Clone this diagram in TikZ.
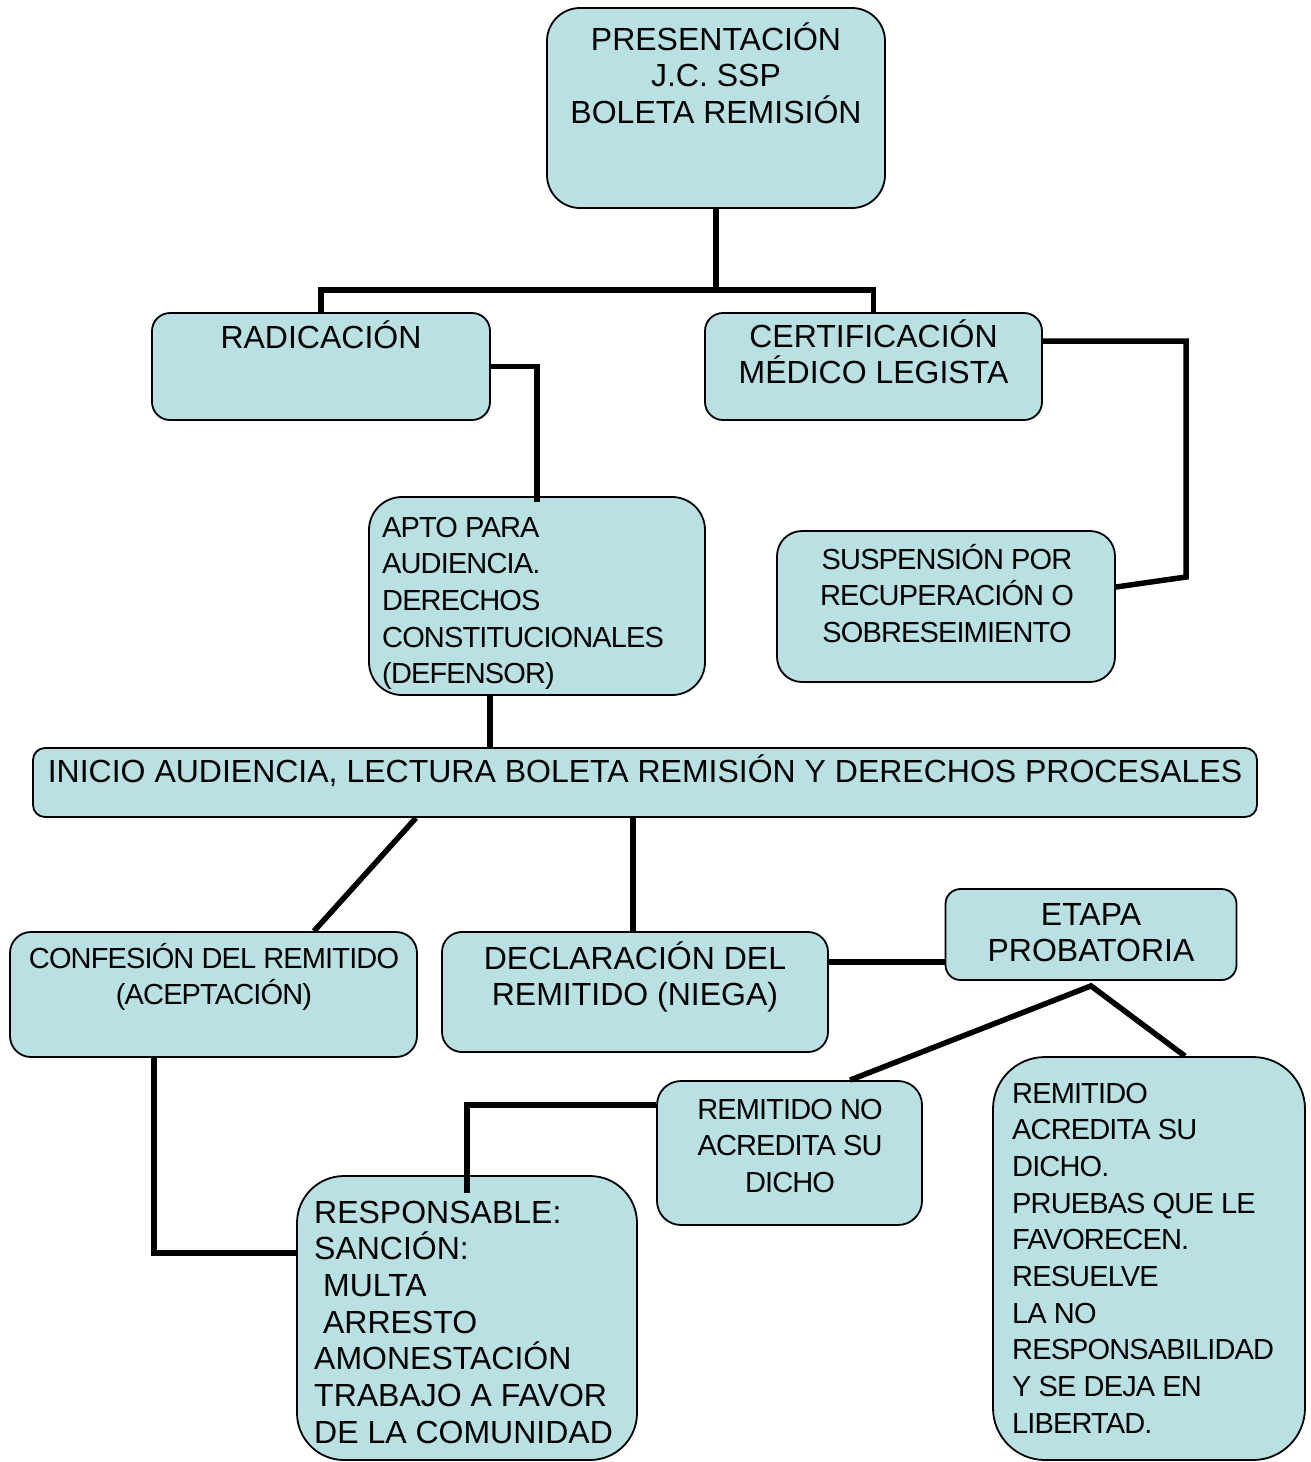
\documentclass[tikz,border=0pt]{standalone}
\usepackage{fontspec}
\setmainfont{Liberation Sans}
\newfontfamily\condfont[LetterSpace=-3]{Liberation Sans}
\definecolor{boxfill}{RGB}{185,224,227}
\tikzset{
  box/.style={draw=black, line width=1.8pt, fill=boxfill, inner sep=0pt, rectangle},
  conn/.style={draw=black, line width=5.5pt},
  txt/.style={inner sep=0pt, font=\fontsize{32}{36.7}\selectfont},
  ctxt/.style={inner sep=0pt, font=\condfont\fontsize{29}{36.7}\selectfont},
}
\begin{document}
\begin{tikzpicture}[x=1pt,y=-1pt]
\useasboundingbox (0,0) rectangle (1311,1462);
% boxes
\node[box, minimum width=338pt, minimum height=200pt, rounded corners=33pt] (pres) at (716,108) {};
\node[box, minimum width=338pt, minimum height=107pt, rounded corners=18pt] (rad) at (321,366.5) {};
\node[box, minimum width=337pt, minimum height=107pt, rounded corners=18pt] (cert) at (873.5,366.5) {};
\node[box, minimum width=336pt, minimum height=198pt, rounded corners=33pt] (apto) at (537,596) {};
\node[box, minimum width=338pt, minimum height=151pt, rounded corners=25pt] (susp) at (946,606.5) {};
\node[box, minimum width=1224pt, minimum height=69pt, rounded corners=12pt] (inicio) at (645,782.5) {};
\node[box, minimum width=407pt, minimum height=125pt, rounded corners=21pt] (conf) at (213.5,994.5) {};
\node[box, minimum width=386pt, minimum height=120pt, rounded corners=20pt] (decl) at (635,992) {};
\node[box, minimum width=291pt, minimum height=91pt, rounded corners=15pt] (etapa) at (1091,934.5) {};
\node[box, minimum width=265pt, minimum height=144pt, rounded corners=24pt] (remno) at (789.5,1153) {};
\node[box, minimum width=312pt, minimum height=403pt, rounded corners=52pt] (remac) at (1149,1258.5) {};
\node[box, minimum width=340pt, minimum height=284pt, rounded corners=47pt] (resp) at (467,1318) {};
% texts
\node[txt, anchor=base] (presT) at (716,50) {\parbox[t]{400pt}{\centering PRESENTACIÓN\\J.C. SSP\\BOLETA REMISIÓN}};
\node[txt, anchor=base] (radT) at (321,348) {RADICACIÓN};
\node[txt, anchor=base] (certT) at (873.5,347) {\parbox[t]{400pt}{\centering CERTIFICACIÓN\\MÉDICO LEGISTA}};
\node[ctxt, anchor=base west] (aptoT) at (382,537) {\parbox[t]{320pt}{\raggedright APTO PARA\\AUDIENCIA.\\DERECHOS\\CONSTITUCIONALES\\(DEFENSOR)}};
\node[ctxt, anchor=base] (suspT) at (947,569) {\parbox[t]{330pt}{\centering SUSPENSIÓN POR\\RECUPERACIÓN O\\SOBRESEIMIENTO}};
\node[txt, anchor=base] (inicioT) at (645,782) {INICIO AUDIENCIA, LECTURA BOLETA REMISIÓN Y DERECHOS PROCESALES};
\node[ctxt, anchor=base] (confT) at (214,968) {\parbox[t]{400pt}{\centering CONFESIÓN DEL REMITIDO\\(ACEPTACIÓN)}};
\node[txt, anchor=base] (declT) at (635,969) {\parbox[t]{380pt}{\centering DECLARACIÓN DEL\\REMITIDO (NIEGA)}};
\node[txt, anchor=base] (etapaT) at (1091,925) {\parbox[t]{290pt}{\centering ETAPA\\PROBATORIA}};
\node[ctxt, anchor=base] (remnoT) at (790,1119) {\parbox[t]{260pt}{\centering REMITIDO NO\\ACREDITA SU\\DICHO}};
\node[ctxt, anchor=base west] (remacT) at (1012,1103) {\parbox[t]{300pt}{\raggedright REMITIDO\\ACREDITA SU\\DICHO.\\PRUEBAS QUE LE\\FAVORECEN.\\RESUELVE\\LA NO\\RESPONSABILIDAD\\Y SE DEJA EN\\LIBERTAD.}};
\node[txt, anchor=base west] (respT) at (314,1223) {\parbox[t]{330pt}{\raggedright RESPONSABLE:\\SANCIÓN:\\\hspace*{0.278em}MULTA\\\hspace*{0.278em}ARRESTO\\AMONESTACIÓN\\TRABAJO A FAVOR\\DE LA COMUNIDAD}};
% connectors
\coordinate (bar) at (716,290);
\draw[conn] (pres.south) -- (bar);
\draw[conn] (rad.north) |- (bar) -| (cert.north);
\draw[conn] (rad.east) -| ([yshift=-6pt]apto.north);
\draw[conn] ([yshift=25.5pt]cert.east) -| (1186,577) -- ([yshift=19.5pt]susp.east);
\draw[conn] ([xshift=-47pt]apto.south) -- ([xshift=-47pt]apto.south |- inicio.north);
\draw[conn] ([xshift=-229pt]inicio.south) -- ([xshift=100.5pt]conf.north);
\draw[conn] ([xshift=-12pt]inicio.south) -- ([xshift=-12pt]inicio.south |- decl.north);
\draw[conn] ([yshift=30pt]decl.east) -- ([yshift=30pt]decl.east -| etapa.west);
\coordinate (ep) at ([yshift=-5pt]etapa.south);
\draw[conn] ([xshift=60.5pt]remno.north) -- (ep) -- ([xshift=36pt]remac.north);
\draw[conn] ([yshift=48pt]remno.west) -| ([yshift=-18pt]resp.north);
\draw[conn] ([xshift=-59.5pt]conf.south) |- ([yshift=65pt]resp.west);
\end{tikzpicture}
\end{document}
